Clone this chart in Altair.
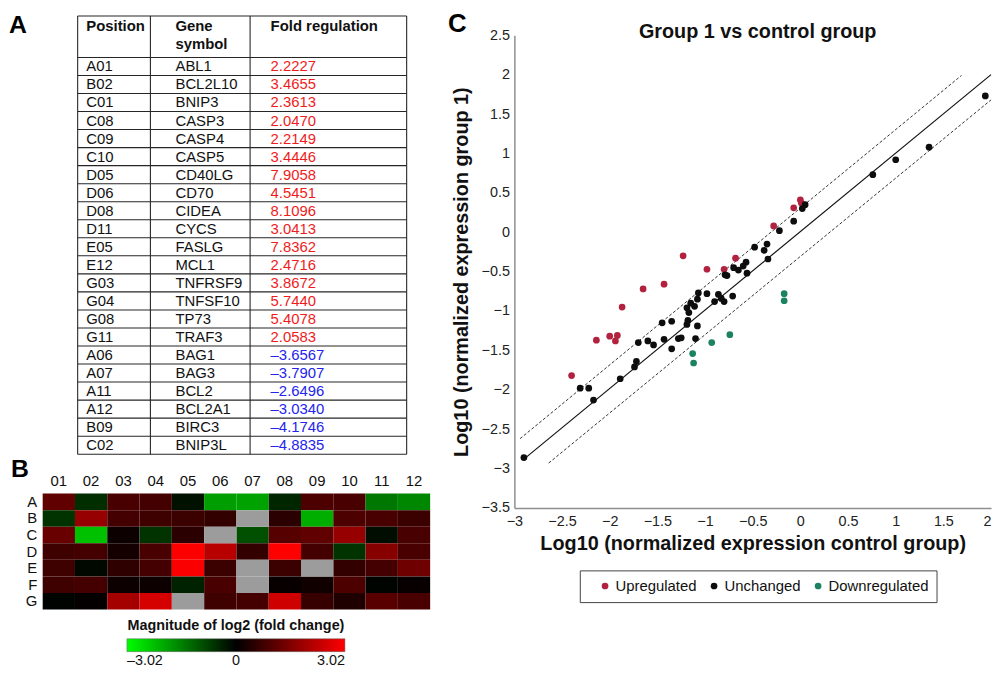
import math
import altair as alt
import pandas as pd

FONT = "Liberation Sans"

# ---------------- Panel A: genes with >2-fold change ----------------
table_positions = ["A01", "B02", "C01", "C08", "C09", "C10", "D05", "D06", "D08", "D11",
                   "E05", "E12", "G03", "G04", "G08", "G11", "A06", "A07", "A11", "A12",
                   "B09", "C02"]
table_genes = ["ABL1", "BCL2L10", "BNIP3", "CASP3", "CASP4", "CASP5", "CD40LG", "CD70",
               "CIDEA", "CYCS", "FASLG", "MCL1", "TNFRSF9", "TNFSF10", "TP73", "TRAF3",
               "BAG1", "BAG3", "BCL2", "BCL2A1", "BIRC3", "BNIP3L"]
table_fold = [2.2227, 3.4655, 2.3613, 2.0470, 2.2149, 3.4446, 7.9058, 4.5451, 8.1096, 3.0413,
              7.8362, 2.4716, 3.8672, 5.7440, 5.4078, 2.0583, -3.6567, -3.7907, -2.6496,
              -3.0340, -4.1746, -4.8835]
table_headers = ["Position", "Gene\nsymbol", "Fold regulation"]

# ---------------- Panel B: plate heat map, log2(fold change) ----------------
plate_rows = ["A", "B", "C", "D", "E", "F", "G"]
plate_cols = ["01", "02", "03", "04", "05", "06", "07", "08", "09", "10", "11", "12"]
NA = None
heat_A = [1.15, -0.55, 0.85, 0.80, -0.20, -1.87, -1.92, -0.45, 0.90, 0.85, -1.41, -1.60]
heat_B = [-0.60, 1.79, 0.80, 0.75, 0.70, 0.60, NA, 0.50, -2.06, 0.90, 0.85, 0.70]
heat_C = [1.24, -2.29, 0.15, -0.60, 0.50, NA, -0.95, 1.03, 1.15, 1.78, -0.15, 0.85]
heat_D = [0.75, 0.80, 0.25, 0.85, 2.98, 2.18, 0.60, 3.02, 0.80, -0.60, 1.60, 0.85]
heat_E = [0.75, -0.10, 0.55, 0.80, 2.97, 0.70, NA, 0.70, NA, 0.60, 0.80, 1.31]
heat_F = [0.75, 0.80, 0.15, 0.15, -0.40, 0.85, NA, 0.10, 0.20, 0.90, -0.05, 0.10]
heat_G = [-0.05, 0.05, 1.95, 2.52, NA, 0.75, 0.80, 2.43, 0.65, 0.35, 1.04, 0.85]
heat_rows = [heat_A, heat_B, heat_C, heat_D, heat_E, heat_F, heat_G]
heat_limit = 3.02

# ---------------- Panel C: scatter, log10 normalized expression ----------------
up_x = [-2.40, -2.14, -2.00, -1.92, -1.94, -1.87, -1.65, -1.43, -1.23, -0.98, -0.80, -0.68,
        -0.28, -0.07, 0.00, 0.01]
up_y = [-1.82, -1.37, -1.32, -1.31, -1.38, -0.95, -0.72, -0.66, -0.30, -0.47, -0.47, -0.33,
        0.08, 0.31, 0.41, 0.37]
unch_x = [-2.90, -2.31, -2.22, -2.17, -1.89, -1.74, -1.72, -1.70, -1.60, -1.54, -1.45, -1.43,
          -1.35, -1.35, -1.28, -1.25, -1.19, -1.18, -1.19, -1.17, -1.15, -1.11, -1.10, -1.08,
          -1.08, -1.07, -0.98, -0.90, -0.86, -0.83, -0.80, -0.71,
          1.94, 1.35, 1.00, 0.76, 0.05, 0.02, -0.07, -0.22, -0.35, -0.38, -0.48, -0.34, -0.57,
          -0.60, -0.65, -0.70, -0.56, -0.77, -0.79]
unch_y = [-2.86, -1.98, -1.98, -2.13, -1.86, -1.71, -1.64, -1.40, -1.38, -1.43, -1.15, -1.36,
          -1.13, -1.48, -1.35, -1.34, -1.17, -1.12, -0.96, -1.02, -0.90, -0.94, -1.35, -0.85,
          -1.19, -0.77, -0.78, -0.88, -0.79, -0.84, -0.88, -0.81,
          1.73, 1.08, 0.92, 0.73, 0.35, 0.30, 0.14, 0.02, -0.15, -0.23, -0.19, -0.34, -0.38,
          -0.43, -0.48, -0.45, -0.52, -0.55, -0.54]
down_x = [-0.17, -0.17, -0.74, -0.93, -1.13, -1.12]
down_y = [-0.78, -0.87, -1.30, -1.40, -1.54, -1.66]
status_names = ["Upregulated", "Unchanged", "Downregulated"]
status_colors = ["#b2223f", "#0d0d0d", "#1d8262"]

# reference lines (equal expression and 2-fold boundaries)
line_names = ["equal", "equal", "upper", "upper", "lower", "lower"]
line_x = [-2.90, 2.00, -2.94, 1.69, -2.64, 2.00]
line_y = [-2.88, 2.00, -2.62, 1.99, -2.93, 1.68]

x_ticks = [-3, -2.5, -2, -1.5, -1, -0.5, 0, 0.5, 1, 1.5, 2]
y_ticks = [-3.5, -3, -2.5, -2, -1.5, -1, -0.5, 0, 0.5, 1, 1.5, 2, 2.5]

# ======================= layout constants =======================
LEFT_W = 391
ROW_H = 18.2
HEADER_UNITS = 2.3
N_ROWS = len(table_positions)
TABLE_UNITS = HEADER_UNITS + N_ROWS
TABLE_H = TABLE_UNITS * ROW_H
COL_EDGES = [35.3, 108.7, 209.3, 367.3]
TEXT_X = [44, 134, 230]
HEADER_BASE = 0.84
HEAT_H = 117
HEAT_GAP = 39
SC_W = 481
SC_TOP = 19.5
SC_BOTTOM = 496.5

# ======================= Panel A =======================
tx = alt.Scale(domain=[0, LEFT_W], nice=False, zero=False)
ty = alt.Scale(domain=[0, TABLE_UNITS], nice=False, zero=False, reverse=True)

grid_rows = []
for yv in [0, HEADER_UNITS] + [HEADER_UNITS + k + 1 for k in range(N_ROWS)]:
    grid_rows.append({"x": COL_EDGES[0], "x2": COL_EDGES[-1], "y": yv, "y2": yv})
for xv in COL_EDGES:
    grid_rows.append({"x": xv, "x2": xv, "y": 0, "y2": TABLE_UNITS})
grid_df = pd.DataFrame(grid_rows)

cell_rows = []
for i, (p, g, f) in enumerate(zip(table_positions, table_genes, table_fold)):
    yc = HEADER_UNITS + i + 0.5
    cell_rows.append({"text": p, "x": TEXT_X[0], "y": yc, "tone": "plain"})
    cell_rows.append({"text": g, "x": TEXT_X[1], "y": yc, "tone": "plain"})
    cell_rows.append({"text": f"{f:.4f}".replace("-", "\u2013"), "x": TEXT_X[2], "y": yc,
                      "tone": "up" if f > 0 else "down"})
cell_df = pd.DataFrame(cell_rows)
head_df = pd.DataFrame({"text": table_headers, "x": TEXT_X, "y": [HEADER_BASE] * 3})

grid = alt.Chart(grid_df).mark_rule(color="#262626", strokeWidth=1.1).encode(
    x=alt.X("x:Q", scale=tx, axis=None), x2="x2:Q",
    y=alt.Y("y:Q", scale=ty, axis=None), y2="y2:Q")
cells_txt = alt.Chart(cell_df).mark_text(align="left", baseline="middle", fontSize=15).encode(
    x=alt.X("x:Q", scale=tx, axis=None),
    y=alt.Y("y:Q", scale=ty, axis=None),
    text="text:N",
    color=alt.Color("tone:N", scale=alt.Scale(domain=["plain", "up", "down"],
                                              range=["#111111", "#f01c1c", "#2424ee"]),
                    legend=None))
head_txt = alt.Chart(head_df).mark_text(align="left", baseline="alphabetic", fontSize=15,
                                        fontWeight="bold", lineBreak="\n", lineHeight=17.6,
                                        color="#111111").encode(
    x=alt.X("x:Q", scale=tx, axis=None),
    y=alt.Y("y:Q", scale=ty, axis=None),
    text="text:N")
lab_A = alt.Chart(pd.DataFrame({"t": ["A"]})).mark_text(
    align="left", baseline="alphabetic", fontSize=25, fontWeight="bold", color="#000").encode(
    text="t:N", x=alt.value(-34), y=alt.value(17.5))
table_chart = alt.layer(grid, cells_txt, head_txt, lab_A).properties(width=LEFT_W, height=TABLE_H)

# ======================= Panel B =======================
vals = {r: row[:] for r, row in zip(plate_rows, heat_rows)}
for p, f in zip(table_positions, table_fold):
    vals[p[0]][plate_cols.index(p[1:])] = math.copysign(math.log2(abs(f)), f)
heat_df = pd.DataFrame([{"row": r, "col": c, "v": vals[r][j]}
                        for r in plate_rows for j, c in enumerate(plate_cols)])

hbase = alt.Chart(heat_df).encode(
    x=alt.X("col:O", sort=plate_cols,
            scale=alt.Scale(domain=plate_cols, paddingInner=0, paddingOuter=0),
            axis=alt.Axis(orient="top", title=None, ticks=False, domain=False, labelAngle=0,
                          labelFontSize=15, labelPadding=5, labelColor="#111")),
    y=alt.Y("row:O", sort=plate_rows,
            scale=alt.Scale(domain=plate_rows, paddingInner=0, paddingOuter=0),
            axis=alt.Axis(title=None, ticks=False, domain=False, labelFontSize=15,
                          labelPadding=6, labelColor="#111")))
heat_cells = hbase.transform_filter("isValid(datum.v)").mark_rect().encode(
    fill=alt.Fill("v:Q",
                  scale=alt.Scale(domain=[-heat_limit, 0, heat_limit],
                                  range=["#00ff00", "#000000", "#ff0000"], interpolate="rgb"),
                  legend=alt.Legend(
                      title="Magnitude of log2 (fold change)", orient="none",
                      legendX=85, legendY=127, direction="horizontal",
                      gradientLength=220, gradientThickness=13,
                      gradientStrokeColor="#666", gradientStrokeWidth=0.5,
                      values=[-heat_limit, 0, heat_limit],
                      labelExpr="datum.value < 0 ? '\u2013' + format(-datum.value, '.2f') : (datum.value == 0 ? '0' : format(datum.value, '.2f'))",
                      labelAlign="center", labelFontSize=14.5, labelOffset=2,
                      labelColor="#111", titleFontSize=14.5, titleFontWeight="bold",
                      titleColor="#111", titleAnchor="middle", titlePadding=5,
                      titleLimit=400, padding=0)))
heat_na = hbase.transform_filter("!isValid(datum.v)").mark_rect(color="#9c9c9c")
lab_B = alt.Chart(pd.DataFrame({"t": ["B"]})).mark_text(
    align="left", baseline="alphabetic", fontSize=25, fontWeight="bold", color="#000").encode(
    text="t:N", x=alt.value(-32), y=alt.value(-17))
heat_chart = alt.layer(heat_cells, heat_na, lab_B).properties(width=LEFT_W, height=HEAT_H)

# ======================= Panel C =======================
pts_df = pd.concat([
    pd.DataFrame({"x": up_x, "y": up_y, "status": "Upregulated"}),
    pd.DataFrame({"x": unch_x, "y": unch_y, "status": "Unchanged"}),
    pd.DataFrame({"x": down_x, "y": down_y, "status": "Downregulated"}),
], ignore_index=True)
lines_df = pd.DataFrame({"line": line_names, "x": line_x, "y": line_y})

sx = alt.Scale(domain=[-3, 2], nice=False, zero=False)
sy = alt.Scale(domain=[-3.5, 2.5], nice=False, zero=False, range=[SC_BOTTOM, SC_TOP])
x_axis = alt.Axis(values=x_ticks, tickCount=len(x_ticks), format="~g",
                  title="Log10 (normalized expression control group)",
                  titleFontSize=20, titleFontWeight="bold", titleColor="#111", titlePadding=5,
                  labelFontSize=14.5, labelColor="#222", labelPadding=7, ticks=False, grid=False,
                  domainColor="#8f8f8f", domainWidth=1.5, offset=SC_BOTTOM - TABLE_H,
                  labelOverlap=False,
                  labelAlign={"expr": "datum.value == 2 ? 'right' : 'center'"})
y_axis = alt.Axis(values=y_ticks, tickCount=len(y_ticks), format="~g",
                  title="Log10 (normalized expression group 1)",
                  titleFontSize=20, titleFontWeight="bold", titleColor="#111", titlePadding=10,
                  labelFontSize=14.5, labelColor="#222", labelPadding=5, ticks=False, grid=False,
                  domainColor="#8f8f8f", domainWidth=1.5, labelOverlap=False)

X_ENC = alt.X("x:Q", scale=sx, axis=x_axis)
Y_ENC = alt.Y("y:Q", scale=sy, axis=y_axis)

solid = alt.Chart(lines_df).transform_filter("datum.line == 'equal'").mark_line(
    color="#111", strokeWidth=1.2).encode(x=X_ENC, y=Y_ENC, detail="line:N")
dashed = alt.Chart(lines_df).transform_filter("datum.line != 'equal'").mark_line(
    color="#333", strokeWidth=1, strokeDash=[3, 2]).encode(x=X_ENC, y=Y_ENC, detail="line:N")
points = alt.Chart(pts_df).mark_circle(size=46, opacity=1).encode(
    x=X_ENC, y=Y_ENC,
    color=alt.Color("status:N", scale=alt.Scale(domain=status_names, range=status_colors),
                    legend=alt.Legend(title=None, orient="none", legendX=66, legendY=559.5,
                                      direction="horizontal", strokeColor="#444",
                                      fillColor="white", padding=8, symbolType="circle",
                                      symbolSize=46, symbolOffset=10, labelFontSize=15,
                                      labelOffset=3, columnPadding=-2, labelColor="#111")))
title_C = alt.Chart(pd.DataFrame({"t": ["Group 1 vs control group"]})).mark_text(
    align="center", baseline="alphabetic", fontSize=20, fontWeight="bold", color="#111").encode(
    text="t:N", x=alt.value(SC_W / 2 + 5), y=alt.value(22))
lab_C = alt.Chart(pd.DataFrame({"t": ["C"]})).mark_text(
    align="left", baseline="alphabetic", fontSize=26, fontWeight="bold", color="#000").encode(
    text="t:N", x=alt.value(-67), y=alt.value(16.5))
scatter_chart = alt.layer(solid, dashed, points, title_C, lab_C).properties(
    width=SC_W, height=TABLE_H)

# ======================= assemble =======================
chart = alt.concat(table_chart, scatter_chart, heat_chart, columns=2, align="each",
                   bounds="flush", spacing={"row": HEAT_GAP, "column": 85}).resolve_scale(
    color="independent", fill="independent").resolve_legend(
    color="independent", fill="independent").properties(
    padding={"left": 1, "top": 0, "right": 1, "bottom": 0}).configure(
    font=FONT).configure_view(stroke=None)

chart.save("out.html", embed_options={"renderer": "svg", "actions": False})
